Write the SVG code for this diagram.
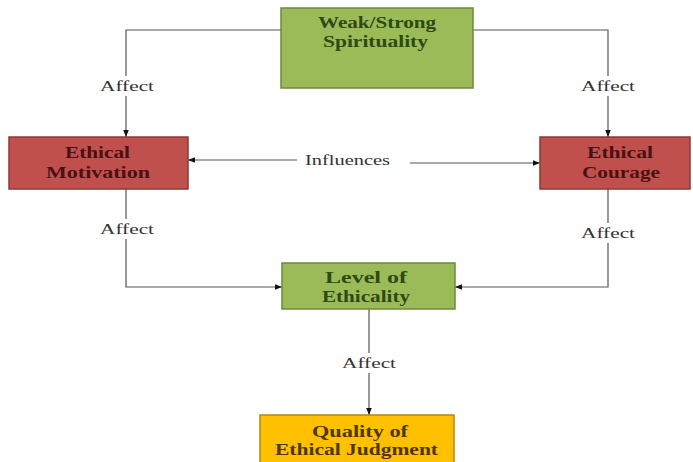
<svg xmlns="http://www.w3.org/2000/svg" width="693" height="462" viewBox="0 0 693 462">
<style>
.box{stroke-width:1.5}
.green{fill:#9bbb59;stroke:#6b8a3a}
.red{fill:#c0504d;stroke:#8c3836}
.gold{fill:#ffc000;stroke:#b8860b}
.t{font-family:"Liberation Serif","DejaVu Serif",serif;font-weight:bold;font-size:16px}
.tg{fill:#2e4a12}
.tr{fill:#4a1111}
.ty{fill:#4f3600}
.lbl{font-family:"Liberation Serif","DejaVu Serif",serif;font-size:14px;fill:#333}
.ln{fill:none;stroke:#555;stroke-width:1.2;marker-end:url(#ah)}
</style>
<defs>
<marker id="ah" viewBox="0 0 10 10" refX="10" refY="5" markerWidth="7" markerHeight="7" markerUnits="userSpaceOnUse" orient="auto">
<path d="M0,1 L10,5 L0,9 z" fill="#111"/>
</marker>
</defs>
<rect width="693" height="462" fill="#fff"/>
<g id="connectors">
<polyline class="ln" points="281,30 126,30 126,137"/>
<polyline class="ln" points="473,30 608,30 608,137"/>
<line class="ln" x1="297" y1="160" x2="188" y2="160"/>
<line class="ln" x1="410" y1="163" x2="540" y2="163"/>
<polyline class="ln" points="126,189 126,287 282,287"/>
<polyline class="ln" points="608,189 608,287 455,287"/>
<line class="ln" x1="369" y1="309" x2="369" y2="415"/>
<rect x="98" y="76" width="58" height="20" fill="#fff"/>
<rect x="579" y="76" width="58" height="20" fill="#fff"/>
<rect x="98" y="219" width="58" height="20" fill="#fff"/>
<rect x="579" y="223" width="58" height="20" fill="#fff"/>
<rect x="340" y="353" width="58" height="20" fill="#fff"/>
<text class="lbl" x="100" y="91" textLength="54" lengthAdjust="spacingAndGlyphs">Affect</text>
<text class="lbl" x="581" y="91" textLength="54" lengthAdjust="spacingAndGlyphs">Affect</text>
<text class="lbl" x="100" y="234" textLength="54" lengthAdjust="spacingAndGlyphs">Affect</text>
<text class="lbl" x="581" y="238" textLength="54" lengthAdjust="spacingAndGlyphs">Affect</text>
<text class="lbl" x="342" y="368" textLength="54" lengthAdjust="spacingAndGlyphs">Affect</text>
<text class="lbl" x="305" y="165" textLength="85" lengthAdjust="spacingAndGlyphs">Influences</text>
</g>
<g id="spirituality">
<rect class="box green" x="281" y="8" width="192" height="80"/>
<text class="t tg" x="318" y="28" textLength="118" lengthAdjust="spacingAndGlyphs">Weak/Strong</text>
<text class="t tg" x="323" y="47" textLength="105" lengthAdjust="spacingAndGlyphs">Spirituality</text>
</g>
<g id="motivation">
<rect class="box red" x="9" y="137" width="179" height="52"/>
<text class="t tr" x="65" y="158" textLength="65" lengthAdjust="spacingAndGlyphs">Ethical</text>
<text class="t tr" x="46" y="178" textLength="104" lengthAdjust="spacingAndGlyphs">Motivation</text>
</g>
<g id="courage">
<rect class="box red" x="540" y="137" width="150" height="52"/>
<text class="t tr" x="587" y="158" textLength="66" lengthAdjust="spacingAndGlyphs">Ethical</text>
<text class="t tr" x="582" y="178" textLength="78" lengthAdjust="spacingAndGlyphs">Courage</text>
</g>
<g id="ethicality">
<rect class="box green" x="282" y="263" width="173" height="46"/>
<text class="t tg" x="325" y="283" textLength="82" lengthAdjust="spacingAndGlyphs">Level of</text>
<text class="t tg" x="322" y="302" textLength="88" lengthAdjust="spacingAndGlyphs">Ethicality</text>
</g>
<g id="judgment">
<rect class="box gold" x="260" y="415" width="194" height="50"/>
<text class="t ty" x="312" y="437" textLength="96" lengthAdjust="spacingAndGlyphs">Quality of</text>
<text class="t ty" x="275" y="455" textLength="163" lengthAdjust="spacingAndGlyphs">Ethical Judgment</text>
</g>
</svg>
